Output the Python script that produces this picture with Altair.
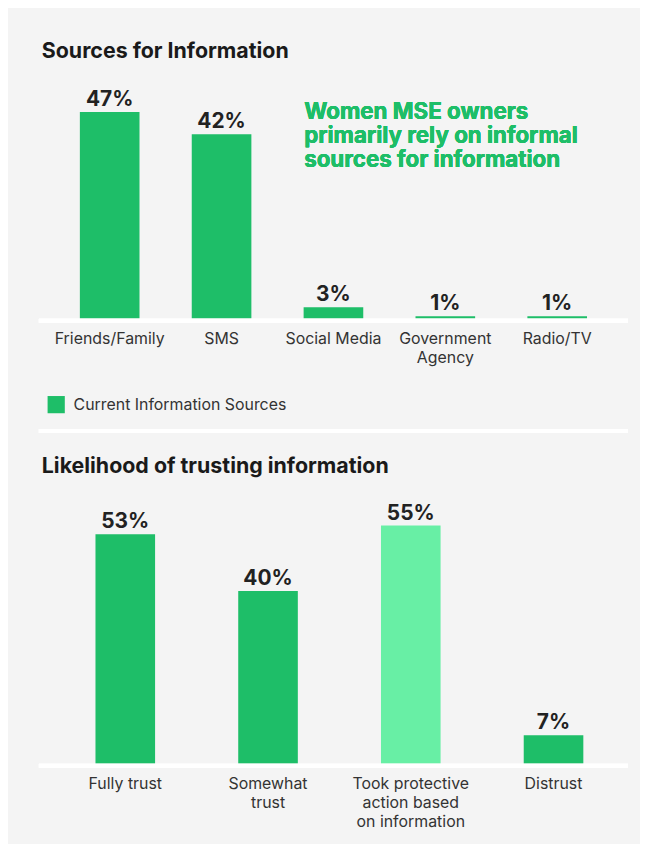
import altair as alt
import pandas as pd

GREEN = "#1ebe68"
LIGHT = "#68efa5"
BG = "#f4f4f4"
FONT = "Inter"

src_cats = ["Friends/Family", "SMS", "Social Media", "Government\nAgency", "Radio/TV"]
src_vals = [47, 42, 3, 1, 1]
src_series = "Current Information Sources"

trust_cats = ["Fully trust", "Somewhat\ntrust", "Took protective\naction based\non information", "Distrust"]
trust_vals = [53, 40, 55, 7]
trust_kind = ["Trust", "Trust", "Action", "Trust"]

annotation = ["Women MSE owners", "primarily rely on informal", "sources for information"]

src = pd.DataFrame({"cat": src_cats, "val": src_vals, "series": [src_series] * len(src_cats)})
src["lbl"] = src["val"].astype(str) + "%"
trust = pd.DataFrame({"cat": trust_cats, "val": trust_vals, "kind": trust_kind})
trust["lbl"] = trust["val"].astype(str) + "%"

W = 593
WB = 605

ax = dict(labelAngle=0, domain=False, ticks=False, labelPadding=10, labelFontSize=16,
          labelColor="#333333", labelFont=FONT, labelLineHeight=19, labelBaseline="top",
          labelExpr="split(datum.label, '\\n')")

top_base = alt.Chart(src).encode(
    x=alt.X("cat:N", sort=None, title=None, axis=alt.Axis(**ax),
            scale=alt.Scale(paddingInner=0.467, paddingOuter=0.367)),
    y=alt.Y("val:Q", title=None, axis=None, scale=alt.Scale(domain=[0, 54.6], nice=False)),
)
top_bars = top_base.mark_bar().encode(
    color=alt.Color("series:N", scale=alt.Scale(range=[GREEN]),
                    legend=alt.Legend(title=None, orient="none", legendX=8, legendY=319,
                                      symbolType="square", symbolSize=300,
                                      labelFontSize=16, labelFont=FONT, labelColor="#333333",
                                      labelOffset=8, labelLimit=400, padding=0))
)
top_text = top_base.mark_text(baseline="alphabetic", dy=-6, fontSize=21, fontWeight="bold",
                              font=FONT, color="#222222").encode(text="lbl:N")
top_rule = alt.Chart(src).mark_rule(color="white", strokeWidth=4).encode(
    x=alt.value(0), x2=alt.value(W), y=alt.value(244))
sep_rule = alt.Chart(src).mark_rule(color="white", strokeWidth=4).encode(
    x=alt.value(0), x2=alt.value(W), y=alt.value(355))
ann = alt.Chart(src).mark_text(
    align="left", baseline="top", fontSize=22.5, fontWeight="bold", font=FONT,
    color=GREEN, lineHeight=24).encode(x=alt.value(267), y=alt.value(23), text=alt.value(annotation))

top = (top_bars + top_rule + top_text + ann + sep_rule).properties(
    width=W, height=244, title="Sources for Information")

bot_base = alt.Chart(trust).encode(
    x=alt.X("cat:N", sort=None, title=None, axis=alt.Axis(**ax),
            scale=alt.Scale(paddingInner=0.5825, paddingOuter=0.397)),
    y=alt.Y("val:Q", title=None, axis=None, scale=alt.Scale(domain=[0, 62.3], nice=False)),
)
bot_bars = bot_base.mark_bar().encode(
    color=alt.Color("kind:N", scale=alt.Scale(domain=["Trust", "Action"], range=[GREEN, LIGHT]),
                    legend=None)
)
bot_text = bot_base.mark_text(baseline="alphabetic", dy=-6, fontSize=21, fontWeight="bold",
                              font=FONT, color="#222222").encode(text="lbl:N")
bot_rule = alt.Chart(trust).mark_rule(color="white", strokeWidth=4).encode(
    x=alt.value(0), x2=alt.value(W), y=alt.value(274))

bottom = (bot_bars + bot_rule + bot_text).properties(
    width=WB, height=274, title="Likelihood of trusting information")

chart = alt.vconcat(top, bottom, spacing=23).resolve_scale(color="independent").properties(
    background=BG,
    padding={"left": 29, "top": 30, "right": 0, "bottom": 12},
).configure_view(strokeWidth=0).configure_title(
    anchor="start", fontSize=21.5, fontWeight="bold", font=FONT, color="#1a1a1a", offset=16, dx=5)

chart.save("out.html", embed_options={"renderer": "svg", "actions": False})
